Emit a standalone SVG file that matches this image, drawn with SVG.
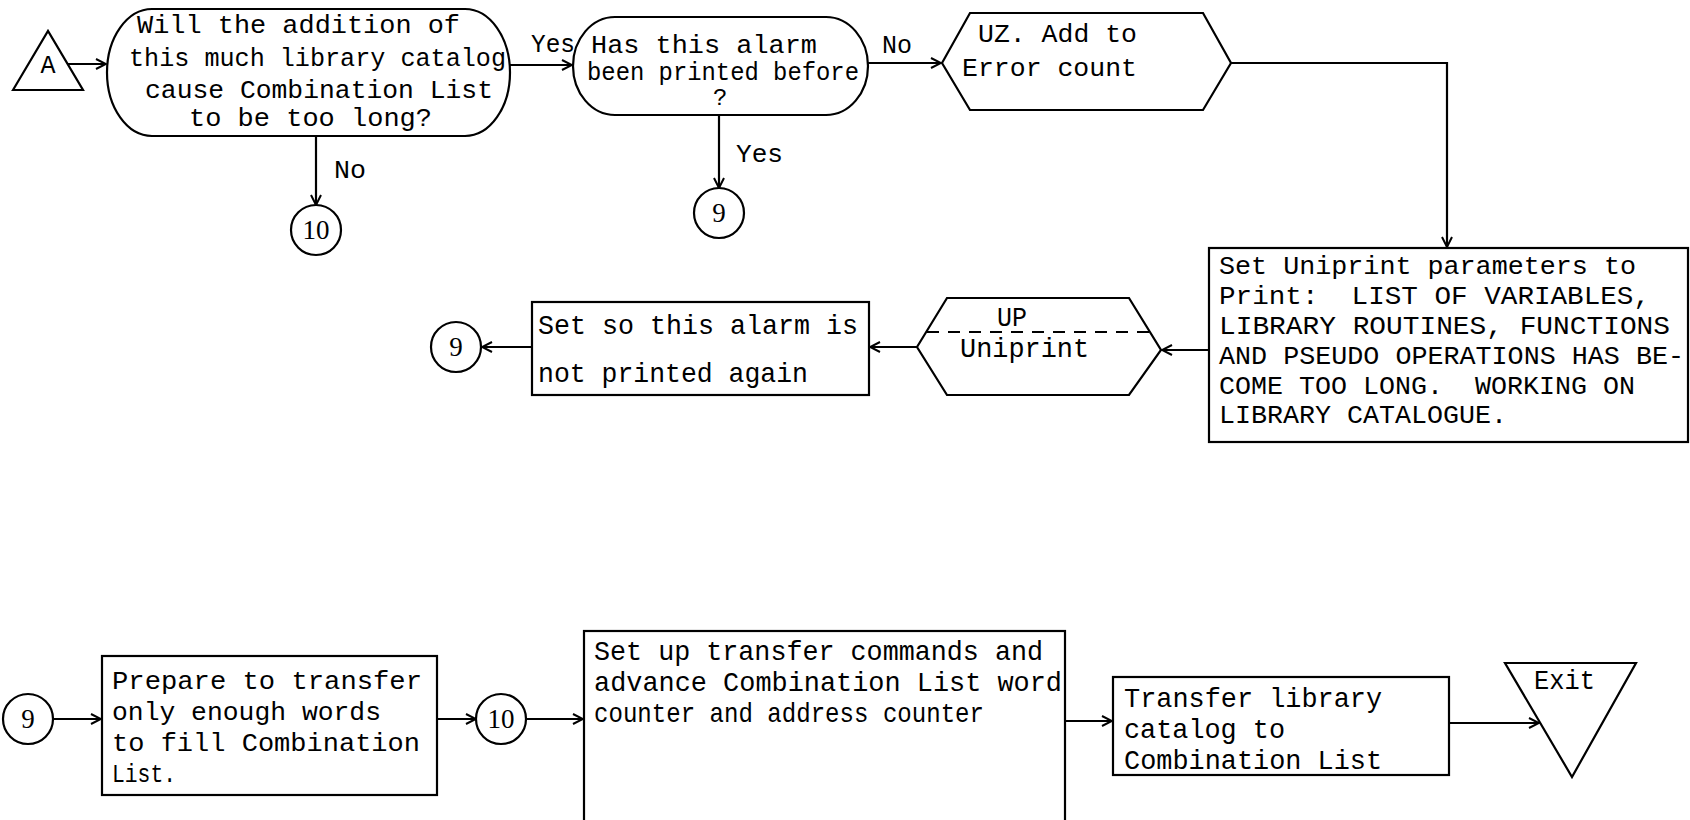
<svg xmlns="http://www.w3.org/2000/svg" width="1690" height="820" viewBox="0 0 1690 820">
<defs>
<style>
.s{fill:#fff;stroke:#000;stroke-width:2.2}
.c{fill:none;stroke:#000;stroke-width:2.2}
.t{font-family:"Liberation Mono","DejaVu Sans Mono",monospace;font-size:26px;fill:#000;white-space:pre}
.tall{font-size:28px}
.n{font-family:"Liberation Serif","DejaVu Serif",serif;font-size:27px;fill:#000;text-anchor:middle}
.d{fill:none;stroke:#000;stroke-width:1.8;stroke-dasharray:12 9}
</style>
<marker id="ah" viewBox="0 0 12 12" refX="11" refY="6" markerWidth="12" markerHeight="12" markerUnits="userSpaceOnUse" orient="auto">
<path d="M1,1 L11,6 L1,11" fill="none" stroke="#000" stroke-width="2"/>
</marker>
</defs>
<rect width="1690" height="820" fill="#fff"/>

<g id="connectors">
<path class="c" d="M68,64 H106" marker-end="url(#ah)"/>
<path class="c" d="M510,65 H572" marker-end="url(#ah)"/>
<path class="c" d="M316,136 V205" marker-end="url(#ah)"/>
<path class="c" d="M719,115 V188" marker-end="url(#ah)"/>
<path class="c" d="M868,63 H941" marker-end="url(#ah)"/>
<path class="c" d="M1231,63 H1447 V247" marker-end="url(#ah)"/>
<path class="c" d="M1209,350 H1162" marker-end="url(#ah)"/>
<path class="c" d="M917,347 H870" marker-end="url(#ah)"/>
<path class="c" d="M532,347 H482" marker-end="url(#ah)"/>
<path class="c" d="M53,719 H101" marker-end="url(#ah)"/>
<path class="c" d="M437,719 H476" marker-end="url(#ah)"/>
<path class="c" d="M526,719 H583" marker-end="url(#ah)"/>
<path class="c" d="M1065,721 H1112" marker-end="url(#ah)"/>
<path class="c" d="M1449,723 H1539" marker-end="url(#ah)"/>
<text class="t" x="531" y="52" textLength="44" lengthAdjust="spacingAndGlyphs">Yes</text>
<text class="t" x="334" y="178" textLength="32" lengthAdjust="spacingAndGlyphs">No</text>
<text class="t" x="736" y="162" textLength="47" lengthAdjust="spacingAndGlyphs">Yes</text>
<text class="t" x="882" y="53" textLength="30" lengthAdjust="spacingAndGlyphs">No</text>
</g>

<g id="start-A">
<polygon class="s" points="13,90 48,31 83,90"/>
<text class="n" x="48" y="73" style="font-family:'Liberation Mono',monospace;font-size:25px">A</text>
</g>

<g id="decision-too-long">
<rect class="s" x="107" y="9" width="403" height="127" rx="45" ry="63.5"/>
<text class="t" x="137" y="33" textLength="323" lengthAdjust="spacingAndGlyphs">Will the addition of</text>
<text class="t" x="129" y="66" textLength="377" lengthAdjust="spacingAndGlyphs">this much library catalog</text>
<text class="t" x="145" y="98" textLength="348" lengthAdjust="spacingAndGlyphs">cause Combination List</text>
<text class="t" x="189" y="126" textLength="243" lengthAdjust="spacingAndGlyphs">to be too long?</text>
</g>

<g id="connector-10a">
<circle class="s" cx="316" cy="230" r="25"/>
<text class="n" x="316" y="239">10</text>
</g>

<g id="decision-printed">
<rect class="s" x="573" y="17" width="295" height="98" rx="42" ry="49"/>
<text class="t" x="591" y="53" textLength="226" lengthAdjust="spacingAndGlyphs">Has this alarm</text>
<text class="t" x="587" y="80" textLength="272" lengthAdjust="spacingAndGlyphs">been printed before</text>
<text class="t" x="713" y="105" style="font-size:24px">?</text>
</g>

<g id="connector-9a">
<circle class="s" cx="719" cy="213" r="25"/>
<text class="n" x="719" y="222">9</text>
</g>

<g id="error-UZ">
<polygon class="s" points="942,63 970,13 1203,13 1231,63 1203,110 970,110"/>
<text class="t" x="978" y="42" textLength="159" lengthAdjust="spacingAndGlyphs">UZ. Add to</text>
<text class="t" x="962" y="76" textLength="175" lengthAdjust="spacingAndGlyphs">Error count</text>
</g>

<g id="set-uniprint-params">
<rect class="s" x="1209" y="248" width="479" height="194"/>
<text class="t" x="1219" y="274" textLength="417" lengthAdjust="spacingAndGlyphs">Set Uniprint parameters to</text>
<text class="t" x="1219" y="304" textLength="431" lengthAdjust="spacingAndGlyphs" xml:space="preserve">Print:  LIST OF VARIABLES,</text>
<text class="t" x="1219" y="334" textLength="451" lengthAdjust="spacingAndGlyphs">LIBRARY ROUTINES, FUNCTIONS</text>
<text class="t" x="1219" y="364" textLength="465" lengthAdjust="spacingAndGlyphs">AND PSEUDO OPERATIONS HAS BE-</text>
<text class="t" x="1219" y="394" textLength="416" lengthAdjust="spacingAndGlyphs" xml:space="preserve">COME TOO LONG.  WORKING ON</text>
<text class="t" x="1219" y="423" textLength="288" lengthAdjust="spacingAndGlyphs">LIBRARY CATALOGUE.</text>
</g>

<g id="uniprint-UP">
<polygon class="s" points="917,347 947,298 1129,298 1161,350 1129,395 947,395"/>
<line class="d" x1="927" y1="332" x2="1158" y2="332"/>
<text class="t tall" x="997" y="326" textLength="30" lengthAdjust="spacingAndGlyphs">UP</text>
<text class="t tall" x="960" y="357" textLength="129" lengthAdjust="spacingAndGlyphs">Uniprint</text>
</g>

<g id="set-alarm-flag">
<rect class="s" x="532" y="302" width="337" height="93"/>
<text class="t tall" x="538" y="334" textLength="320" lengthAdjust="spacingAndGlyphs">Set so this alarm is</text>
<text class="t tall" x="538" y="382" textLength="270" lengthAdjust="spacingAndGlyphs">not printed again</text>
</g>

<g id="connector-9b">
<circle class="s" cx="456" cy="347" r="25"/>
<text class="n" x="456" y="356">9</text>
</g>

<g id="connector-9c">
<circle class="s" cx="28" cy="719" r="25"/>
<text class="n" x="28" y="728">9</text>
</g>

<g id="prepare-transfer">
<rect class="s" x="102" y="656" width="335" height="139"/>
<text class="t" x="112" y="689" textLength="310" lengthAdjust="spacingAndGlyphs">Prepare to transfer</text>
<text class="t" x="112" y="720" textLength="269" lengthAdjust="spacingAndGlyphs">only enough words</text>
<text class="t" x="112" y="751" textLength="308" lengthAdjust="spacingAndGlyphs">to fill Combination</text>
<text class="t" x="112" y="782" textLength="64" lengthAdjust="spacingAndGlyphs">List.</text>
</g>

<g id="connector-10b">
<circle class="s" cx="501" cy="719" r="25"/>
<text class="n" x="501" y="728">10</text>
</g>

<g id="setup-transfer">
<rect class="s" x="584" y="631" width="481" height="200"/>
<text class="t tall" x="594" y="660" textLength="449" lengthAdjust="spacingAndGlyphs">Set up transfer commands and</text>
<text class="t tall" x="594" y="691" textLength="468" lengthAdjust="spacingAndGlyphs">advance Combination List word</text>
<text class="t tall" x="594" y="722" textLength="390" lengthAdjust="spacingAndGlyphs">counter and address counter</text>
</g>

<g id="transfer-catalog">
<rect class="s" x="1113" y="677" width="336" height="98"/>
<text class="t tall" x="1124" y="707" textLength="258" lengthAdjust="spacingAndGlyphs">Transfer library</text>
<text class="t tall" x="1124" y="738" textLength="161" lengthAdjust="spacingAndGlyphs">catalog to</text>
<text class="t tall" x="1124" y="769" textLength="258" lengthAdjust="spacingAndGlyphs">Combination List</text>
</g>

<g id="exit">
<polygon class="s" points="1505,663 1636,663 1572,777"/>
<text class="t tall" x="1534" y="689" textLength="61" lengthAdjust="spacingAndGlyphs">Exit</text>
</g>
</svg>
